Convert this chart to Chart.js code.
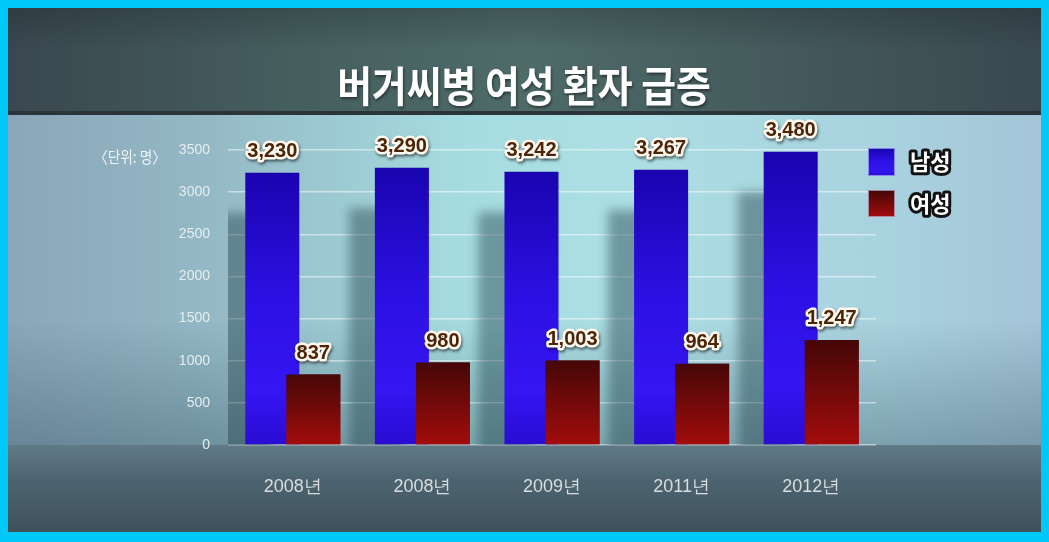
<!DOCTYPE html>
<html><head><meta charset="utf-8">
<script src="https://cdn.jsdelivr.net/npm/chart.js@4"></script>
<style>
html,body{margin:0;padding:0;}
body{width:1049px;height:542px;background:#00c8f8;position:relative;overflow:hidden;}
#bg{position:absolute;left:8px;top:8px;width:1033px;height:524px;overflow:hidden;}
#top{position:absolute;left:0;top:0;width:100%;height:105px;
 background:linear-gradient(180deg,rgba(20,25,30,0.25) 0%,rgba(0,0,0,0) 40%),
 linear-gradient(90deg,#3a4750 0%,#46605f 30%,#4e6b68 50%,#465d5e 70%,#3a4851 100%);}
#line{position:absolute;left:0;top:103px;width:100%;height:4px;background:#2b3539;}
#mid{position:absolute;left:0;top:107px;width:100%;height:330px;
 background:linear-gradient(180deg,rgba(0,0,0,0) 0%,rgba(0,0,0,0) 62%,rgba(40,70,85,0.35) 100%),
 linear-gradient(90deg,#8ba6ba 0%,#93b7c4 18%,#a6dde0 45%,#acdfe3 60%,#a9d2df 85%,#a4c5d8 100%);}
#bot{position:absolute;left:0;top:437px;width:100%;height:87px;
 background:linear-gradient(180deg,#5f7a86 0%,#4d6470 40%,#3f525c 100%);}
#wrap{position:absolute;left:0;top:0;width:1049px;height:542px;}
</style></head>
<body>
<div id="bg"><div id="top"></div><div id="line"></div><div id="mid"></div><div id="bot"></div></div>
<div id="wrap"><canvas id="c" width="1049" height="542"></canvas></div>
<script>
const titleText = '버거씨병 여성 환자 급증';
const unitText = '〈단위: 명〉';
const categories = ['2008년', '2008년', '2009년', '2011년', '2012년'];
const seriesNames = ['남성', '여성'];
const maleValues = [3230, 3290, 3242, 3267, 3480];
const femaleValues = [837, 980, 1003, 964, 1247];
const yTickMin = 0, yTickMax = 3500, yTickStep = 500;

function barGradient(ctx, stops) {
  const chart = ctx.chart;
  const area = chart.chartArea;
  if (!area || ctx.raw === undefined) return stops[stops.length - 1][1];
  const y = chart.scales.y;
  const top = y.getPixelForValue(ctx.raw);
  const bottom = y.getPixelForValue(0);
  const g = chart.ctx.createLinearGradient(0, top, 0, bottom);
  stops.forEach(s => g.addColorStop(s[0], s[1]));
  return g;
}
const maleStops = [[0, '#1a04b0'], [0.45, '#2c10e2'], [0.8, '#3515f2'], [1, '#2a0cd2']];
const femaleStops = [[0, '#450707'], [1, '#a30c0c']];

const extras = {
  id: 'extras',
  beforeDatasetDraw(chart, args) {
    if (args.index === 0) {
      const c = chart.ctx;
      c.save();
      c.shadowColor = 'rgba(35,65,75,0.45)';
      c.shadowOffsetX = -26;
      c.shadowOffsetY = 40;
      c.shadowBlur = 10;
    }
  },
  afterDatasetDraw(chart, args) {
    if (args.index === 0) chart.ctx.restore();
  },
  afterDatasetsDraw(chart) {
    const c = chart.ctx;
    const area = chart.chartArea;
    c.save();
    c.beginPath();
    c.rect(area.left - 5, area.top - 60, area.right - area.left + 10, area.bottom - area.top + 60);
    c.clip();
    chart.getDatasetMeta(1).data.forEach(el => el.draw(c));
    c.restore();
    chart.data.datasets.forEach((ds, di) => {
      chart.getDatasetMeta(di).data.forEach((el, i) => {
        const txt = ds.data[i].toLocaleString('en-US');
        c.save();
        c.font = 'bold 20px "Liberation Sans", Arial, sans-serif';
        c.textAlign = 'center';
        c.textBaseline = 'middle';
        c.lineJoin = 'round';
        c.shadowColor = 'rgba(0,0,0,0.55)';
        c.shadowOffsetX = 1; c.shadowOffsetY = 2; c.shadowBlur = 3;
        c.strokeStyle = '#fffaf0';
        c.lineWidth = 5;
        c.strokeText(txt, el.x, el.y - 21);
        c.shadowColor = 'transparent';
        c.fillStyle = '#4e2408';
        c.fillText(txt, el.x, el.y - 21);
        c.restore();
      });
    });
  },
  afterDraw(chart) {
    const c = chart.ctx;
    c.save();
    c.font = 'bold 42px "Noto Sans CJK KR", sans-serif';
    c.textAlign = 'center';
    c.textBaseline = 'middle';
    c.translate(524, 86);
    c.scale(0.9, 1);
    c.shadowColor = 'rgba(0,0,0,0.45)';
    c.shadowOffsetX = 1; c.shadowOffsetY = 2; c.shadowBlur = 3;
    c.fillStyle = '#ffffff';
    c.fillText(titleText, 0, 0);
    c.restore();
    c.save();
    c.font = '16px "Noto Sans CJK KR", sans-serif';
    c.textAlign = 'left';
    c.textBaseline = 'middle';
    const w = c.measureText(unitText).width;
    c.translate(94, 157);
    c.scale(Math.min(1, 72 / w), 1);
    c.fillStyle = '#eef4f6';
    c.fillText(unitText, 0, 0);
    c.restore();
    const boxes = [[868, 148, 27, 28, maleStops], [868, 190, 27, 27, femaleStops]];
    seriesNames.forEach((name, i) => {
      const [x, y, bw, bh, stops] = boxes[i];
      c.save();
      const g = c.createLinearGradient(0, y, 0, y + bh);
      stops.forEach(s => g.addColorStop(s[0], s[1]));
      c.fillStyle = g;
      c.fillRect(x, y, bw, bh);
      c.strokeStyle = 'rgba(200,220,255,0.6)';
      c.lineWidth = 1;
      c.strokeRect(x + 0.5, y + 0.5, bw - 1, bh - 1);
      c.font = 'bold 22px "Noto Sans CJK KR", sans-serif';
      c.textAlign = 'left';
      c.textBaseline = 'middle';
      c.lineJoin = 'round';
      c.strokeStyle = '#111111';
      c.lineWidth = 6;
      c.strokeText(name, 910, y + bh / 2);
      c.fillStyle = '#ffffff';
      c.fillText(name, 910, y + bh / 2);
      c.restore();
    });
  }
};

new Chart(document.getElementById('c'), {
  type: 'bar',
  data: {
    labels: categories,
    datasets: [
      { label: seriesNames[0], data: maleValues,
        backgroundColor: ctx => barGradient(ctx, maleStops) },
      { label: seriesNames[1], data: femaleValues,
        backgroundColor: ctx => barGradient(ctx, femaleStops) }
    ]
  },
  options: {
    responsive: false,
    animation: false,
    events: [],
    categoryPercentage: 0.633,
    barPercentage: 1.317,
    layout: { padding: { top: 150, right: 173, bottom: 0, left: 0 } },
    plugins: { legend: { display: false }, title: { display: false }, tooltip: { enabled: false } },
    scales: {
      x: {
        grid: { display: false, drawTicks: false },
        border: { display: false },
        ticks: { color: '#d8dee0', padding: 31, font: { family: '"Liberation Sans Narrow", "Liberation Sans", sans-serif', size: 18 } },
        afterFit: s => { s.height = 97; }
      },
      y: {
        min: yTickMin, max: yTickMax,
        grid: { color: 'rgba(255,255,255,0.5)', lineWidth: 1.5, drawTicks: false },
        border: { display: false },
        ticks: { stepSize: yTickStep, color: '#e6eef0', padding: 18,
          callback: v => String(v),
          font: { family: '"Liberation Sans Narrow", "Liberation Sans", sans-serif', size: 14 } },
        afterFit: s => { s.width = 228; }
      }
    }
  },
  plugins: [extras]
});
</script>
</body></html>
